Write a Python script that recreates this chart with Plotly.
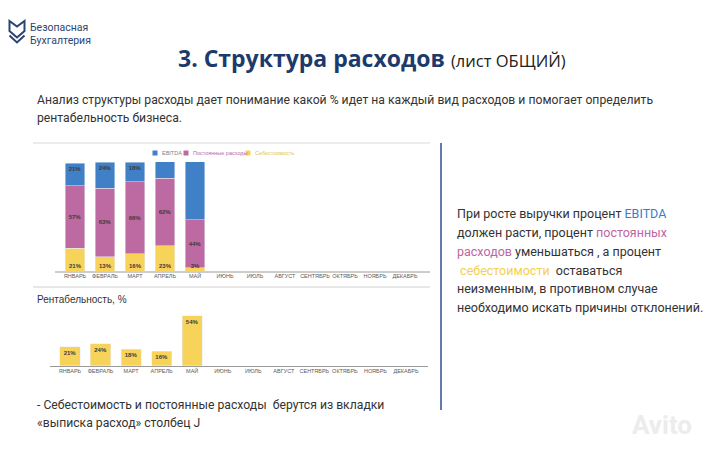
import plotly.graph_objects as go

W, H = 720, 450

months = ["ЯНВАРЬ", "ФЕВРАЛЬ", "МАРТ", "АПРЕЛЬ", "МАЙ", "ИЮНЬ", "ИЮЛЬ",
          "АВГУСТ", "СЕНТЯБРЬ", "ОКТЯБРЬ", "НОЯБРЬ", "ДЕКАБРЬ"]
cost_pct = [21, 13, 16, 23, 3]        # Себестоимость
fixed_pct = [57, 63, 66, 62, 44]      # Постоянные расходы
ebitda_pct = [21, 24, 18, 16, 54]     # EBITDA
profit_pct = [21, 24, 18, 16, 54]     # Рентабельность, %

series_names = ["Себестоимость", "Постоянные расходы", "EBITDA"]
c_blue, c_pink, c_yellow = "#3f80c6", "#bd6aa3", "#f8d35a"


def px(x):
    return x / W


def py(y):
    return 1 - y / H


fig = go.Figure()
label_font = dict(family="Arial", size=6, color="#3a3a3a")
for vals, name, col, anchor, show_text in [
    (cost_pct, series_names[0], c_yellow, "start", False),
    (fixed_pct, series_names[1], c_pink, "middle", True),
    (ebitda_pct, series_names[2], c_blue, "end", True),
]:
    fig.add_trace(go.Bar(
        x=months[:len(vals)], y=vals, name=name, marker_color=col,
        text=[f"<b>{v}%</b>" for v in vals] if show_text else None,
        textposition="inside" if show_text else "none",
        insidetextanchor=anchor, textangle=0, insidetextfont=label_font,
        xaxis="x", yaxis="y", showlegend=False, cliponaxis=False,
    ))

# bottom-segment labels (Себестоимость), placed at the base of each bar
fig.add_trace(go.Scatter(
    x=months[:len(cost_pct)], y=[4.5] * len(cost_pct), mode="text",
    text=[f"<b>{v}%</b>" for v in cost_pct], textfont=label_font,
    xaxis="x", yaxis="y", showlegend=False, hoverinfo="skip",
))

fig.add_trace(go.Bar(
    x=months[:len(profit_pct)], y=profit_pct, marker_color=c_yellow,
    text=[f"<b>{v}%</b>" for v in profit_pct], textposition="inside",
    insidetextanchor="end", textangle=0, insidetextfont=label_font,
    xaxis="x2", yaxis="y2", showlegend=False, width=0.66,
))

tickfont = dict(family="Arial", size=5.5, color="#5a5a5a")
fig.update_layout(
    width=W, height=H, margin=dict(l=0, r=0, t=0, b=0),
    paper_bgcolor="white", plot_bgcolor="white",
    barmode="stack", bargap=0.36,
    xaxis=dict(domain=[px(60), px(420)], type="category", categoryarray=months,
               categoryorder="array", range=[-0.5, 11.5], showline=False,
               ticks="", tickfont=tickfont, tickangle=0, anchor="y"),
    yaxis=dict(domain=[py(271), py(162)], range=[0, 100], visible=False,
               showgrid=False, anchor="x"),
    xaxis2=dict(domain=[px(54.75), px(421.25)], type="category", categoryarray=months,
                categoryorder="array", range=[-0.5, 11.5], showline=False,
                ticks="", tickfont=tickfont, tickangle=0, anchor="y2"),
    yaxis2=dict(domain=[py(366), py(310.4)], range=[0, 60], visible=False,
                showgrid=False, anchor="x2"),
    showlegend=False,
)

shapes = []
shapes.append(dict(type="line", xref="paper", yref="paper", x0=px(33), x1=px(430),
                   y0=py(143), y1=py(143), line=dict(color="#d9d9d9", width=1)))
shapes.append(dict(type="line", xref="paper", yref="paper", x0=px(33), x1=px(430),
                   y0=py(287), y1=py(287), line=dict(color="#d0d0d0", width=1)))
shapes.append(dict(type="line", xref="paper", yref="paper", x0=px(55), x1=px(430),
                   y0=py(272), y1=py(272), line=dict(color="#9a9a9a", width=1)))
shapes.append(dict(type="line", xref="paper", yref="paper", x0=px(50), x1=px(428),
                   y0=py(366.5), y1=py(366.5), line=dict(color="#9a9a9a", width=1)))
shapes.append(dict(type="line", xref="paper", yref="paper", x0=px(441), x1=px(441),
                   y0=py(143), y1=py(410), line=dict(color="#2b4f8f", width=1.5)))


def path(points, close=True):
    s = "M " + " L ".join(f"{px(x):.5f},{py(y):.5f}" for x, y in points)
    return s + (" Z" if close else "")


navy = "#2c4470"
shapes.append(dict(type="path", xref="paper", yref="paper",
                   path=path([(9.5, 21), (9.5, 31), (17, 37.5), (24.5, 31), (24.5, 21), (17, 26.5)]),
                   line=dict(color=navy, width=2)))
shapes.append(dict(type="path", xref="paper", yref="paper",
                   path=path([(9.5, 35.5), (17, 42.5), (24.5, 35.5)], close=False),
                   line=dict(color=navy, width=2)))

leg = [("EBITDA", c_blue, 155, 160, "#7f7f7f"),
       ("Постоянные расходы", c_pink, 186, 191, c_pink),
       ("Себестоимость", c_yellow, 248, 253, "#e9c53c")]
anns = []
for name, col, sx, tx, tcol in leg:
    shapes.append(dict(type="rect", xref="paper", yref="paper",
                       x0=px(sx - 2.5), x1=px(sx + 2.5), y0=py(155.5), y1=py(150.5),
                       line=dict(width=0), fillcolor=col))
    anns.append(dict(x=px(tx), y=py(153), xref="paper", yref="paper", text=name,
                     showarrow=False, xanchor="left", yanchor="middle",
                     font=dict(family="Arial", size=5.5, color=tcol)))

fig.update_layout(shapes=shapes)

body = dict(family="Roboto", size=12.2, color="#333333")
right_font = dict(family="Roboto", size=12.5, color="#333333")


def ann(x, y, text, font, xanchor="left"):
    anns.append(dict(x=px(x), y=py(y), xref="paper", yref="paper", text=text,
                     showarrow=False, xanchor=xanchor, yanchor="middle", font=font,
                     align="left"))


logo_font = dict(family="Roboto", size=10.5, color=navy)
ann(28, 27, "Безопасная", logo_font)
ann(28, 40, "Бухгалтерия", logo_font)
ann(176, 58, "<b>3. Структура расходов</b> "
             "<span style='font-size:16.5px;color:#222222'>(лист ОБЩИЙ)</span>",
    dict(family="Open Sans", size=23, color="#1c3a6b"))

ann(35, 100, "Анализ структуры расходы дает понимание какой % идет на каждый вид расходов и помогает определить", body)
ann(35, 118, "рентабельность бизнеса.", body)
ann(35, 405, "- Себестоимость и постоянные расходы  берутся из вкладки", body)
ann(35, 423, "«выписка расход» столбец J", body)
ann(35, 299, "Рентабельность, %", dict(family="Arial", size=10, color="#333333"))

right = [
    "При росте выручки процент <span style='color:#3d7cc9'>EBITDA</span>",
    "должен расти, процент <span style='color:#c0659f'>постоянных</span>",
    "<span style='color:#c0659f'>расходов</span> уменьшаться , а процент",
    " <span style='color:#f3cf52'>себестоимости</span>  оставаться",
    "неизменным, в противном случае",
    "необходимо искать причины отклонений.",
]
for i, line in enumerate(right):
    ann(455, 214 + i * 18.7, line, right_font)

ann(662, 425, "<b>Avito</b>", dict(family="Roboto", size=26, color="#ececec"), xanchor="center")

fig.update_layout(annotations=anns)
fig.write_html("out.html")
